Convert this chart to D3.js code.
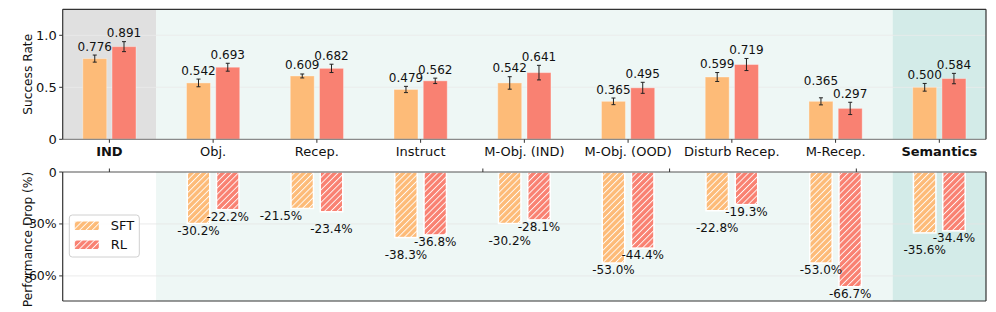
<!DOCTYPE html>
<html>
<head>
<meta charset="utf-8">
<script src="https://cdn.jsdelivr.net/npm/d3@7"></script>
<style>
  body { margin: 0; background: #fff; }
  svg { display: block; font-family: "DejaVu Sans", sans-serif; }
</style>
</head>
<body>
<svg id="chart"></svg>
<script>
// valeurs
const categories = ["IND", "Obj.", "Recep.", "Instruct", "M-Obj. (IND)", "M-Obj. (OOD)", "Disturb Recep.", "M-Recep.", "Semantics"];
const boldCats = ["IND", "Semantics"];
const sftRate = [0.776, 0.542, 0.609, 0.479, 0.542, 0.365, 0.599, 0.365, 0.500];
const rlRate  = [0.891, 0.693, 0.682, 0.562, 0.641, 0.495, 0.719, 0.297, 0.584];
const sftErr  = [0.034, 0.037, 0.019, 0.030, 0.060, 0.032, 0.043, 0.034, 0.037];
const rlErr   = [0.048, 0.038, 0.040, 0.026, 0.070, 0.053, 0.058, 0.059, 0.050];
const sftDrop = [null, -30.2, -21.5, -38.3, -30.2, -53.0, -22.8, -53.0, -35.6];
const rlDrop  = [null, -22.2, -23.4, -36.8, -28.1, -44.4, -19.3, -66.7, -34.4];
const rateTicks = [0, 0.5, 1.0];
const rateTickLabels = ["0", "0.5", "1.0"];
const dropTicks = [0, -30, -60];
const dropTickLabels = ["0", "-30%", "-60%"];
const dropTopTicks = [0, 3.6, 5.4, 7.2];
const seriesNames = ["SFT", "RL"];

const W = 996, H = 312;
const colSFT = "#fdbb78", colRL = "#f98172";

const svg = d3.select("#chart").attr("width", W).attr("height", H);

const left = 62.7, right = 986;
const x = d3.scaleLinear().domain([-0.45, 8.45]).range([left, right]);
const yTop = d3.scaleLinear().domain([0, 1.25]).range([139.3, 9.3]);
const yBot = d3.scaleLinear().domain([0, -74.5]).range([172, 301]);

const off = 0.141, bw = x(0.231) - x(0);

// motif hachuré
const defs = svg.append("defs");
[["hSFT", colSFT], ["hRL", colRL]].forEach(([id, c]) => {
  const p = defs.append("pattern").attr("id", id)
    .attr("patternUnits", "userSpaceOnUse")
    .attr("width", 4.4).attr("height", 6)
    .attr("patternTransform", "rotate(45)");
  p.append("rect").attr("width", 4.4).attr("height", 6).attr("fill", c);
  p.append("line").attr("x1", 0.5).attr("x2", 0.5).attr("y1", 0).attr("y2", 6)
    .attr("stroke", "#fff").attr("stroke-width", 0.9);
});

// fonds
function bands(yS, withGray) {
  const r = yS.range();
  const y0 = Math.min(r[0], r[1]), y1 = Math.max(r[0], r[1]);
  if (withGray) svg.append("rect").attr("x", x(-0.45)).attr("y", y0)
    .attr("width", x(0.45) - x(-0.45)).attr("height", y1 - y0).attr("fill", "#e0e0e0");
  svg.append("rect").attr("x", x(0.45)).attr("y", y0)
    .attr("width", x(7.55) - x(0.45)).attr("height", y1 - y0).attr("fill", "#eef7f5");
  svg.append("rect").attr("x", x(7.55)).attr("y", y0)
    .attr("width", x(8.45) - x(7.55)).attr("height", y1 - y0).attr("fill", "#d3ebe8");
}
bands(yTop, true);
bands(yBot, false);

// grille
rateTicks.slice(1).forEach(t => {
  svg.append("line").attr("x1", left).attr("x2", right)
    .attr("y1", yTop(t)).attr("y2", yTop(t))
    .attr("stroke", "#ebebeb").attr("stroke-width", 0.8);
});
dropTicks.slice(1).forEach(t => {
  svg.append("line").attr("x1", left).attr("x2", right)
    .attr("y1", yBot(t)).attr("y2", yBot(t))
    .attr("stroke", "#e6e6e6").attr("stroke-width", 0.8);
});

// barres du haut
const series = [
  { vals: sftRate, err: sftErr, col: colSFT, dx: -off },
  { vals: rlRate, err: rlErr, col: colRL, dx: off }
];
series.forEach(s => {
  s.vals.forEach((v, i) => {
    const cx = x(i + s.dx);
    svg.append("rect")
      .attr("x", cx - bw / 2).attr("y", yTop(v))
      .attr("width", bw).attr("height", yTop(0) - yTop(v))
      .attr("fill", s.col)
      .attr("stroke", "#fff").attr("stroke-opacity", 0.35).attr("stroke-width", 1);
    const e = s.err[i];
    const g = svg.append("g").attr("stroke", "#222").attr("stroke-width", 1);
    g.append("line").attr("x1", cx).attr("x2", cx).attr("y1", yTop(v - e)).attr("y2", yTop(v + e));
    g.append("line").attr("x1", cx - 2).attr("x2", cx + 2).attr("y1", yTop(v - e)).attr("y2", yTop(v - e));
    g.append("line").attr("x1", cx - 2).attr("x2", cx + 2).attr("y1", yTop(v + e)).attr("y2", yTop(v + e));
  });
});

// étiquettes du haut (on remonte SFT si ça chevauche RL)
categories.forEach((c, i) => {
  let yS = yTop(sftRate[i] + sftErr[i]) - 4.5;
  const yR = yTop(rlRate[i] + rlErr[i]) - 4.5;
  if (sftRate[i] > rlRate[i] && yS > yR - 12) yS = yR - 12.3;
  [[sftRate[i], -off, yS], [rlRate[i], off, yR]].forEach(([v, dx, yy]) => {
    svg.append("text")
      .attr("x", x(i + dx)).attr("y", yy)
      .attr("text-anchor", "middle")
      .attr("font-size", 12).attr("fill", "#111")
      .text(v.toFixed(3));
  });
});

// barres du bas (hachurées)
const drops = [
  { vals: sftDrop, fill: "url(#hSFT)", dx: -off },
  { vals: rlDrop, fill: "url(#hRL)", dx: off }
];
drops.forEach(s => {
  s.vals.forEach((v, i) => {
    if (v === null) return;
    const cx = x(i + s.dx);
    svg.append("rect")
      .attr("x", cx - bw / 2 + 0.75).attr("y", yBot(0))
      .attr("width", bw - 1.5).attr("height", yBot(v) - yBot(0) - 0.75)
      .attr("fill", s.fill)
      .attr("stroke", "#fff").attr("stroke-width", 1.5);
  });
});

// étiquettes du bas : si les deux valeurs sont proches, on décale
categories.forEach((c, i) => {
  const s = sftDrop[i], r = rlDrop[i];
  if (s === null) return;
  let yS = yBot(s) + 10.5, yR = yBot(r) + 10.5;
  let xS = x(i - off), anchorS = "middle";
  if (Math.abs(s - r) < 5) {
    if (s <= r) yS += 10.3;
    else { yR += 10.3; anchorS = "end"; }
  }
  svg.append("text").attr("x", xS).attr("y", yS)
    .attr("text-anchor", anchorS).attr("font-size", 12).attr("fill", "#111")
    .text(s.toFixed(1) + "%");
  svg.append("text").attr("x", x(i + off)).attr("y", yR)
    .attr("text-anchor", "middle").attr("font-size", 12).attr("fill", "#111")
    .text(r.toFixed(1) + "%");
});

// cadres
const spine = "#333";
function frame(y0, y1, topCol, botCol) {
  svg.append("line").attr("x1", left).attr("x2", right).attr("y1", y0).attr("y2", y0).attr("stroke", topCol).attr("stroke-width", 1.2);
  svg.append("line").attr("x1", left).attr("x2", right).attr("y1", y1).attr("y2", y1).attr("stroke", botCol).attr("stroke-width", 1.2);
  svg.append("line").attr("x1", left).attr("x2", left).attr("y1", y0).attr("y2", y1).attr("stroke", spine).attr("stroke-width", 1.2);
  svg.append("line").attr("x1", right).attr("x2", right).attr("y1", y0).attr("y2", y1).attr("stroke", spine).attr("stroke-width", 1.2);
}
frame(yTop(1.25), yTop(0), spine, "#8a8a8a");
frame(yBot(0), yBot(-74.5), "#555", spine);

// axes y
rateTicks.forEach((t, i) => {
  svg.append("line").attr("x1", left - 3.5).attr("x2", left).attr("y1", yTop(t)).attr("y2", yTop(t)).attr("stroke", spine);
  svg.append("text").attr("x", left - 6).attr("y", yTop(t)).attr("dy", "0.36em")
    .attr("text-anchor", "end").attr("font-size", 13).attr("fill", "#111").text(rateTickLabels[i]);
});
dropTicks.forEach((t, i) => {
  svg.append("line").attr("x1", left - 3.5).attr("x2", left).attr("y1", yBot(t)).attr("y2", yBot(t)).attr("stroke", spine);
  svg.append("text").attr("x", left - 6).attr("y", yBot(t)).attr("dy", "0.36em")
    .attr("text-anchor", "end").attr("font-size", 12.5).attr("fill", "#111").text(dropTickLabels[i]);
});

svg.append("text")
  .attr("transform", `translate(31.5,${(yTop(0) + yTop(1.25)) / 2}) rotate(-90)`)
  .attr("text-anchor", "middle").attr("font-size", 12.2).attr("fill", "#111")
  .text("Success Rate");
svg.append("text")
  .attr("transform", `translate(31.5,${(yBot(0) + yBot(-74.5)) / 2 + 3}) rotate(-90)`)
  .attr("text-anchor", "middle").attr("font-size", 12.2).attr("fill", "#111")
  .text("Performance Drop (%)");

// axe x (catégories)
categories.forEach((c, i) => {
  svg.append("line").attr("x1", x(i)).attr("x2", x(i)).attr("y1", yTop(0)).attr("y2", yTop(0) + 3.5).attr("stroke", spine);
  svg.append("text").attr("x", x(i)).attr("y", 156)
    .attr("text-anchor", "middle").attr("font-size", 13).attr("fill", "#111")
    .attr("font-weight", boldCats.includes(c) ? "bold" : "normal")
    .text(c);
});
dropTopTicks.forEach(t => {
  svg.append("line").attr("x1", x(t)).attr("x2", x(t)).attr("y1", yBot(0) - 3.5).attr("y2", yBot(0)).attr("stroke", spine);
});

// légende
const lg = svg.append("g").attr("transform", "translate(69.3,215)");
lg.append("rect").attr("width", 70).attr("height", 42).attr("rx", 3)
  .attr("fill", "#fff").attr("fill-opacity", 0.85).attr("stroke", "#d0d0d0");
seriesNames.forEach((n, i) => {
  lg.append("rect").attr("x", 5.5).attr("y", 6.5 + i * 19).attr("width", 24).attr("height", 8.5)
    .attr("fill", i === 0 ? "url(#hSFT)" : "url(#hRL)");
  lg.append("text").attr("x", 41.5).attr("y", 15 + i * 19)
    .attr("font-size", 13).attr("fill", "#111").text(n);
});
</script>
</body>
</html>
